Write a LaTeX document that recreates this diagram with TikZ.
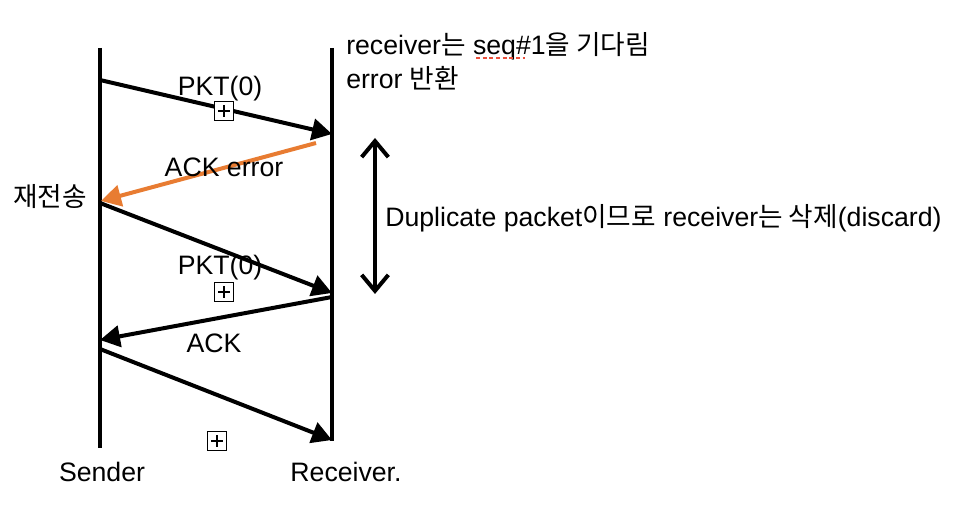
\documentclass[tikz,border=0pt]{standalone}
\usepackage{fontspec}
\setmainfont{Liberation Sans}
\newfontfamily\kr{Noto Sans CJK KR}
\usetikzlibrary{arrows.meta}
\definecolor{ackorange}{RGB}{232,124,50}
\definecolor{spellred}{RGB}{235,80,60}
\begin{document}
\begin{tikzpicture}[x=0.75pt,y=-0.75pt,
  lifeline/.style={line width=3pt},
  msg/.style={line width=3pt,-{Triangle[length=15pt,width=16pt]},shorten >=0pt},
  span/.style={line width=3pt,{Straight Barb[length=12pt,width=20pt,line width=3pt]}-{Straight Barb[length=12pt,width=20pt,line width=3pt]}},
  lbl/.style={inner sep=0pt,font=\fontsize{20}{24}\selectfont},
  pbox/.style={draw,line width=1pt,minimum size=14pt,inner sep=0pt,
    path picture={\draw[line width=1pt] ([xshift=-4.5pt]path picture bounding box.center) -- ([xshift=4.5pt]path picture bounding box.center);
                  \draw[line width=1pt] ([yshift=-4.5pt]path picture bounding box.center) -- ([yshift=4.5pt]path picture bounding box.center);}}]
\useasboundingbox (0,0) rectangle (958,516);
% lifelines
\coordinate (sTop) at (100,48);
\coordinate (sBot) at (100,448);
\coordinate (rTop) at (332,48);
\coordinate (rBot) at (332,441);
\draw[lifeline] (sTop) -- (sBot);
\draw[lifeline] (rTop) -- (rBot);
% message endpoints
\coordinate (m1a) at (100,80);
\coordinate (m1b) at (332,134);
\coordinate (m2a) at (316,143);
\coordinate (m2b) at (101,201);
\coordinate (m3a) at (100,203);
\coordinate (m3b) at (332,293);
\coordinate (m4a) at (332,297);
\coordinate (m4b) at (100,340);
\coordinate (m5a) at (100,349);
\coordinate (m5b) at (332,440);
\draw[msg] (m1a) -- (m1b);
\draw[msg,color=ackorange] (m2a) -- (m2b);
\draw[msg] (m3a) -- (m3b);
\draw[msg] (m4a) -- (m4b);
\draw[msg] (m5a) -- (m5b);
% labels
\node[lbl] (pkt1) at (220,89) {PKT(0)};
\node[pbox,fill=white] (box1) at (224,111) {};
\node[lbl] (ackerr) at (224,167) {ACK error};
\node[lbl] (resend) at (50,197) {\kr 재전송};
\node[lbl] (pkt2) at (220,268) {PKT(0)};
\node[pbox,fill=white] (box2) at (224,292) {};
\node[lbl] (ack) at (214,343) {ACK};
\node[pbox,fill=white] (box3) at (217,441) {};
\node[lbl] (sender) at (102,472) {Sender};
\node[lbl] (receiver) at (346,472) {Receiver.};
% top note
\node[lbl,anchor=west] (note1) at (346,46) {receiver{\kr 는} seq\#1{\kr 을 기다림}};
\node[lbl,anchor=west] (note2) at (346,78) {error {\kr 반환}};
\coordinate (sq1) at (476,58);
\coordinate (sq2) at (525,58);
\draw[spellred,line width=1.5pt,dash pattern=on 3pt off 2pt] (sq1) -- (sq2);
% duplicate span
\coordinate (dTop) at (375,138);
\coordinate (dBot) at (375,294);
\draw[span] (dTop) -- (dBot);
\node[lbl,anchor=west] (dup) at (385,218) {Duplicate packet{\kr 이므로} receiver{\kr 는 삭제}(discard)};
\end{tikzpicture}
\end{document}
